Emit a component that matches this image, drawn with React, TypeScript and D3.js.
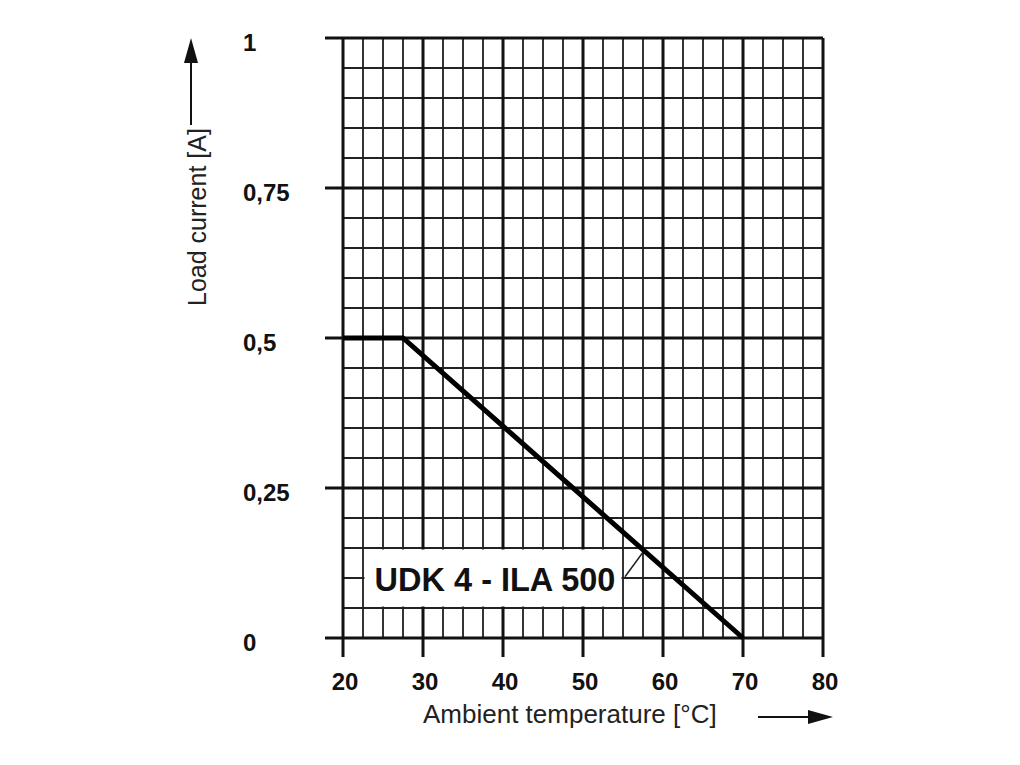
import * as d3 from 'd3';

// derating curve: ambient temperature [°C] -> load current [A]
const temps = [20, 27.5, 70];
const currents = [0.5, 0.5, 0];

const xTicks = [20, 30, 40, 50, 60, 70, 80];
const yTicks = [0, 0.25, 0.5, 0.75, 1];
const yTickLabels = ['0', '0,25', '0,5', '0,75', '1'];

const seriesName = 'UDK 4 - ILA 500';

const W = 1020;
const H = 765;
const FONT = '"Liberation Sans", Arial, sans-serif';

const App = () => {
  const x = d3.scaleLinear().domain([20, 80]).range([343, 823]);
  const y = d3.scaleLinear().domain([0, 1]).range([638, 38]);

  // minor grid every 2.5 °C and every 0.05 A
  const xMinor = d3.range(20, 80.001, 2.5).filter((v) => !xTicks.includes(v));
  const yMinor = d3
    .range(0, 21)
    .map((i) => i * 0.05)
    .filter((v) => !yTicks.some((t) => Math.abs(t - v) < 1e-6));

  const line = d3
    .line<number>()
    .x((_, i) => x(temps[i]))
    .y((d) => y(d));

  const [x0, x1] = x.range();
  const [yb, yt] = y.range();

  return (
    <svg
      width={W}
      height={H}
      style={{ position: 'absolute', left: 0, top: 0, background: '#fff' }}
    >
      <rect width={W} height={H} fill="#fff" />

      {/* minor grid */}
      {xMinor.map((v) => (
        <line key={'xm' + v} x1={x(v)} x2={x(v)} y1={yt} y2={yb} stroke="#333" strokeWidth={2} />
      ))}
      {yMinor.map((v) => (
        <line key={'ym' + v} x1={x0} x2={x1} y1={y(v)} y2={y(v)} stroke="#222" strokeWidth={2} />
      ))}

      {/* major grid with tick stubs */}
      {xTicks.map((v) => (
        <line key={'xM' + v} x1={x(v)} x2={x(v)} y1={yt} y2={yb + 19} stroke="#111" strokeWidth={3} />
      ))}
      {yTicks.map((v) => (
        <line key={'yM' + v} x1={x0 - 18} x2={x1} y1={y(v)} y2={y(v)} stroke="#111" strokeWidth={3} />
      ))}

      {/* label box */}
      <rect
        x={x(22.5) + 1.5}
        y={y(0.15) + 1.5}
        width={x(55) - x(22.5) - 3}
        height={y(0.05) - y(0.15) - 3}
        fill="#fff"
      />
      <text
        x={495}
        y={591}
        textAnchor="middle"
        fontFamily={FONT}
        fontWeight="bold"
        fontSize={32.5}
        fill="#111"
      >
        {seriesName}
      </text>
      <line x1={x(55.25)} y1={y(0.102)} x2={x(57.45)} y2={y(0.142)} stroke="#222" strokeWidth={1.5} />

      {/* curve */}
      <path d={line(currents) ?? ''} fill="none" stroke="#000" strokeWidth={5} strokeLinejoin="miter" />

      {/* tick labels */}
      {xTicks.map((v) => (
        <text
          key={'xl' + v}
          x={x(v) + 2}
          y={690}
          textAnchor="middle"
          fontFamily={FONT}
          fontWeight="bold"
          fontSize={24}
          fill="#111"
        >
          {v}
        </text>
      ))}
      {yTicks.map((v, i) => (
        <text
          key={'yl' + v}
          x={243}
          y={y(v) + 13}
          fontFamily={FONT}
          fontWeight="bold"
          fontSize={24}
          fill="#111"
        >
          {yTickLabels[i]}
        </text>
      ))}

      {/* axis titles with arrows */}
      <text x={423} y={723} fontFamily={FONT} fontSize={26} fill="#222">
        Ambient temperature [°C]
      </text>
      <line x1={758} x2={812} y1={717} y2={717} stroke="#111" strokeWidth={2} />
      <path d="M833,717 L808,710 L808,724 Z" fill="#111" />

      <text
        transform="translate(206,306) rotate(-90)"
        fontFamily={FONT}
        fontSize={25}
        fill="#222"
      >
        Load current [A]
      </text>
      <line x1={191} x2={191} y1={125} y2={60} stroke="#111" strokeWidth={2} />
      <path d="M191,38 L184,63 L198,63 Z" fill="#111" />
    </svg>
  );
};

export default App;
